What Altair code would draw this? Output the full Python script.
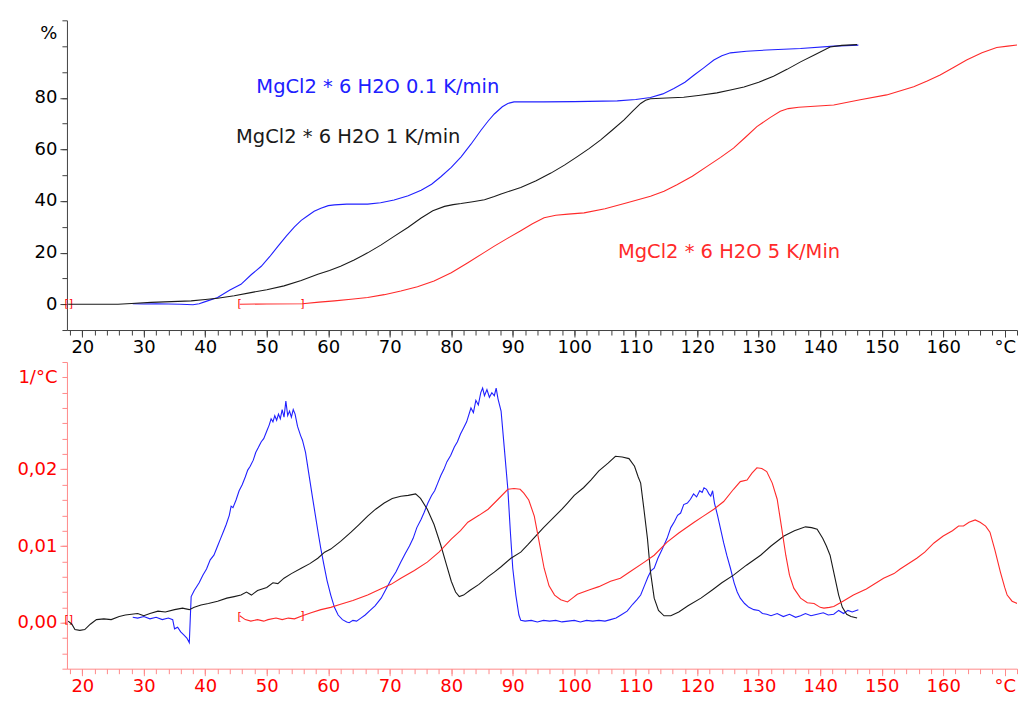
import altair as alt
import pandas as pd

# ---------------- data ----------------
series_names = ["MgCl2 * 6 H2O 0.1 K/min", "MgCl2 * 6 H2O 1 K/min", "MgCl2 * 6 H2O 5 K/Min"]
series_colors = ["#2020ff", "#1a1a1a", "#ff2a2a"]

# top panel: mass loss in %
blue_tg_x = [28.2, 30, 32, 34, 36, 38, 39, 40, 42, 44, 45.8, 47.5, 49.1, 50.5, 51.8, 53.2, 54.5, 55.6, 56.6, 57.7,
             58.8, 60, 61, 63, 66.4, 68.5, 70.7, 73, 75.1, 76.8, 78.3, 80, 81.6, 83.2, 84.8, 86, 87, 88.3, 89.2, 90.2,
             95, 100, 107, 110, 112.4, 114.4, 116.2, 118, 119.5, 121, 122.7, 124, 125.4, 128, 131.3, 136.8, 142.2, 146.2]
blue_tg_y = [0.2, 0.1, 0.2, 0.1, 0.0, -0.2, 0.2, 1.0, 2.6, 5.5, 7.7, 11.5, 14.7, 18.5, 22.4, 26.5, 30, 32.5, 34.2, 36,
             37.2, 38.2, 38.5, 38.8, 38.8, 39.3, 40.4, 42, 44.2, 46.5, 49.4, 53, 57.1, 62, 67.3, 71, 73.7, 76.5, 77.8, 78.4,
             78.4, 78.5, 78.8, 79.3, 80.1, 81.5, 83.6, 86, 88.8, 91.5, 94.6, 96.3, 97.4, 98, 98.5, 99.1, 100, 100.4]

black_tg_x = [17.7, 22, 25.8, 28, 31.2, 34.5, 37.7, 40, 42, 44.7, 47.4, 50, 52.8, 55.6, 58.3, 60.2, 62, 64.2, 66.4, 68.6,
              70.7, 73, 75.1, 77, 78.9, 80.3, 81.6, 83.5, 85.4, 87, 88.1, 89.7, 91.3, 93.8, 96.2, 98.4, 100.5, 102.4,
              104.3, 106.2, 108.1, 109.5, 110.8, 111.6, 112.4, 115, 117.8, 120.5, 123.2, 125.4, 127.6, 130, 132.4,
              134.6, 136.8, 139.2, 141.6, 143.5, 146]
black_tg_y = [0, 0, 0, 0.3, 0.7, 1.0, 1.3, 1.8, 2.3, 3.3, 4.5, 5.6, 7.1, 9.2, 11.6, 13.1, 14.7, 17.1, 19.9, 23.0,
              26.3, 29.8, 33.4, 36.2, 37.9, 38.6, 39.0, 39.7, 40.5, 41.7, 42.7, 44.0, 45.2, 47.8, 50.8, 53.9, 57.2, 60.3,
              63.7, 67.5, 71.4, 74.8, 77.8, 79.0, 79.6, 79.9, 80.2, 81.0, 81.9, 83.0, 84.2, 86.0, 88.3,
              91.0, 93.9, 96.8, 99.7, 100.3, 100.6]

red_tg_x = [45.6, 50, 55.8, 58.5, 61, 63.7, 66.4, 69.1, 71.8, 74.5, 77.2, 80, 82.7, 85, 87, 89.2, 91.3, 93.2, 95.1, 97,
            99, 101.6, 105, 108.6, 112.4, 114.6, 116.7, 119.2, 121.6, 123.8, 125.9, 127.8, 129.7, 131.9, 133.5, 134.8,
            136.5, 138.4, 142.2, 146.5, 150.8, 155.2, 157.4, 159.5, 161.6, 163.8, 166.3, 168.7, 170.5, 172.5]
red_tg_y = [0, 0.1, 0.2, 0.8, 1.3, 1.9, 2.6, 3.7, 5.1, 6.8, 9.0, 12.2, 16.1, 19.5, 22.5, 25.6, 28.5, 31.2, 33.5, 34.5,
            34.9, 35.4, 37.0, 39.3, 41.8, 43.8, 46.3, 49.6, 53.4, 56.9, 60.5, 64.6, 68.8, 72.4, 74.8, 75.8,
            76.3, 76.6, 77.2, 79.2, 81.1, 84.3, 86.5, 88.8, 91.6, 94.6, 97.4, 99.5, 100.0, 100.6]

# bottom panel: derivative in 1/°C
blue_dtg_x = [28.2, 29, 30, 31, 32, 33, 34, 34.7, 35.0, 35.5, 36.0, 36.5, 37.0, 37.4, 37.7, 38.2, 39.0, 39.6, 40.2,
              40.8, 41.4, 42.0, 42.5, 43.0, 43.4, 43.9, 44.2, 44.5, 45.0, 45.5, 46.0, 46.5, 46.9, 47.3, 47.8, 48.2,
              48.6, 49.1, 49.5, 50.0, 50.4, 50.7, 51.0, 51.3, 51.6, 51.9, 52.2, 52.5, 52.8, 53.1, 53.4, 53.7, 54.0,
              54.3, 54.6, 55.0, 55.5, 55.8, 56.3, 56.8, 57.4, 57.9, 58.4, 58.8, 59.3, 59.8, 60.4, 61.0, 61.6, 62.3,
              63.0, 63.4, 64.0, 64.6, 65.3, 66.0, 66.8, 67.6, 68.6, 69.4, 70.2, 71.0, 71.8, 72.5, 73.2, 73.8, 74.4,
              75.1, 75.6, 76.2, 76.8, 77.3, 77.8, 78.3, 78.8, 79.3, 79.9, 80.5, 81.0, 81.5, 82.0, 82.5, 83.2, 83.6,
              84.0, 84.4, 84.8, 85.1, 85.4, 85.8, 86.2, 86.6, 87.0, 87.3, 87.6, 88.1, 88.6, 89.2, 89.6, 90.0, 90.5,
              91.0, 91.3, 92, 93, 94, 95, 96, 97, 98, 99, 100, 101, 102, 103, 104, 105, 105.9, 106.8, 107.6, 108.6,
              109.5, 110.2, 110.8, 111.4, 112.0, 112.5, 113.0, 113.6, 114.2, 115.1, 115.7, 116.3, 116.8, 117.3,
              117.8, 118.4, 118.9, 119.4, 119.9, 120.4, 120.8, 121.1, 121.5, 121.9, 122.2, 122.5, 122.8, 123.3,
              123.8, 124.3, 124.8, 125.4, 126.0, 126.5, 127.0, 127.7, 128.4, 129.2, 130.0, 130.6, 131.3, 132, 133,
              134, 135, 136, 136.8, 137.6, 138.5, 139.5, 140.5, 141.3, 142.2, 143.0, 143.8, 144.5, 145.2, 146.2]
blue_dtg_y = [0.0007, 0.0006, 0.0008, 0.0005, 0.0007, 0.0004, 0.0006, 0.0004, -0.0008, -0.0006, -0.0012, -0.0016,
              -0.0020, -0.0026, 0.0034, 0.0042, 0.0052, 0.0062, 0.0070, 0.0082, 0.0088, 0.0100, 0.0110, 0.0120,
              0.0128, 0.0140, 0.0152, 0.0150, 0.0160, 0.0172, 0.0180, 0.0190, 0.0199, 0.0204, 0.0212, 0.0222,
              0.0228, 0.0236, 0.0240, 0.0250, 0.0258, 0.0266, 0.0262, 0.0270, 0.0264, 0.0272, 0.0266, 0.0278,
              0.0268, 0.0289, 0.0270, 0.0276, 0.0268, 0.0278, 0.0272, 0.0256, 0.0244, 0.0238, 0.0222, 0.0196,
              0.0165, 0.0140, 0.0115, 0.0096, 0.0075, 0.0055, 0.0036, 0.0020, 0.0010, 0.0004, 0.0001, 0.0000,
              0.0003, 0.0002, 0.0006, 0.0010, 0.0016, 0.0022, 0.0032, 0.0044, 0.0056, 0.0066, 0.0079, 0.0090,
              0.0100, 0.0110, 0.0124, 0.0135, 0.0144, 0.0156, 0.0166, 0.0172, 0.0182, 0.0192, 0.0200, 0.0210,
              0.0218, 0.0229, 0.0236, 0.0246, 0.0254, 0.0262, 0.0280, 0.0274, 0.0290, 0.0284, 0.0300, 0.0306,
              0.0296, 0.0304, 0.0294, 0.0300, 0.0296, 0.0306, 0.0292, 0.0276, 0.0230, 0.0174, 0.0120, 0.0071,
              0.0036, 0.0010, 0.0003, 0.0002, 0.0003, 0.0001, 0.0003, 0.0002, 0.0003, 0.0001, 0.0002, 0.0003,
              0.0001, 0.0003, 0.0002, 0.0003, 0.0002, 0.0004, 0.0006, 0.0010, 0.0015, 0.0024, 0.0030, 0.0036,
              0.0048, 0.0060, 0.0068, 0.0071, 0.0084, 0.0094, 0.0110, 0.0124, 0.0132, 0.0140, 0.0143, 0.0154,
              0.0156, 0.0161, 0.0168, 0.0164, 0.0172, 0.0170, 0.0176, 0.0174, 0.0168, 0.0165, 0.0172, 0.0156,
              0.0140, 0.0122, 0.0104, 0.0088, 0.0071, 0.0052, 0.0040, 0.0032, 0.0025, 0.0020, 0.0017, 0.0016,
              0.0012, 0.0011, 0.0009, 0.0012, 0.0008, 0.0011, 0.0007, 0.0009, 0.0012, 0.0009, 0.0011, 0.0013,
              0.0010, 0.0011, 0.0016, 0.0012, 0.0016, 0.0014, 0.0017]

black_dtg_x = [17.7, 18.3, 18.8, 19.6, 20.4, 21.3, 22.3, 23.5, 24.7, 26.0, 27.0, 28.0, 29.0, 30.0, 31.0, 32.3, 33.5,
               35.0, 36.3, 37.4, 38.2, 39.3, 40.5, 42.0, 43.5, 44.7, 45.8, 46.7, 47.5, 48.5, 50.0, 51.0, 51.8, 52.8,
               54.0, 55.6, 57.0, 58.3, 59.4, 60.4, 62.0, 63.7, 65.0, 66.4, 67.7, 69.1, 70.4, 71.8, 73.0, 74.2, 75.0,
               76.1, 77.2, 78.3, 79.2, 80.0, 80.7, 81.3, 82.0, 83.0, 84.5, 86.0, 87.0, 88.1, 89.7, 91.3, 92.5, 93.5,
               95.0, 96.5, 98.0, 98.9, 100.0, 101.5, 102.7, 104.0, 105.5, 106.7, 107.8, 108.9, 109.8, 110.4, 110.8,
               111.3, 111.9, 112.4, 113.0, 113.7, 114.6, 115.7, 117.0, 118.5, 120.6, 122.5, 124.0, 125.9, 128.0,
               130.3, 132.0, 134.1, 135.8, 137.6, 138.6, 139.5, 140.4, 141.0, 141.6, 142.3, 143.0, 143.6, 144.3,
               145.0, 146.0]
black_dtg_y = [0.0002, -0.0002, -0.0009, -0.0010, -0.0009, -0.0002, 0.0004, 0.0005, 0.0004, 0.0008, 0.0010, 0.0011,
               0.0012, 0.0009, 0.0012, 0.0015, 0.0014, 0.0017, 0.0019, 0.0017, 0.0020, 0.0023, 0.0025, 0.0028,
               0.0032, 0.0034, 0.0036, 0.0040, 0.0036, 0.0042, 0.0046, 0.0052, 0.0051, 0.0058, 0.0064, 0.0071,
               0.0077, 0.0084, 0.0092, 0.0096, 0.0106, 0.0118, 0.0128, 0.0139, 0.0148, 0.0156, 0.0162, 0.0165,
               0.0166, 0.0168, 0.0162, 0.0148, 0.0128, 0.0101, 0.0076, 0.0054, 0.0040, 0.0034, 0.0036, 0.0042,
               0.0050, 0.0060, 0.0066, 0.0073, 0.0084, 0.0092, 0.0102, 0.0111, 0.0124, 0.0136, 0.0148, 0.0156,
               0.0166, 0.0176, 0.0186, 0.0198, 0.0208, 0.0217, 0.0216, 0.0214, 0.0204, 0.0190, 0.0182, 0.0150,
               0.0110, 0.0066, 0.0032, 0.0016, 0.0009, 0.0009, 0.0014, 0.0022, 0.0032, 0.0043, 0.0052, 0.0062,
               0.0075, 0.0088, 0.0100, 0.0113, 0.0120, 0.0125, 0.0124, 0.0122, 0.0110, 0.0100, 0.0088, 0.0062,
               0.0036, 0.0020, 0.0011, 0.0008, 0.0006]

red_dtg_x = [45.6, 46.5, 47.4, 48.5, 49.5, 50.2, 51.5, 52.5, 53.5, 54.5, 55.8, 57.2, 58.8, 60.4, 62.0, 64.0, 66.4,
             68.5, 70.2, 71.8, 74.0, 76.1, 78.0, 80.0, 81.5, 82.7, 84.5, 86.0, 87.5, 89.2, 90.2, 91.2, 91.8, 92.6,
             93.5, 94.3, 95.1, 95.9, 96.8, 97.8, 98.9, 99.7, 100.5, 102.5, 104.0, 105.9, 107.5, 109.0, 111.4, 113.0,
             115.1, 117.0, 119.5, 121.0, 122.7, 124.3, 125.9, 127.0, 128.1, 128.9, 129.7, 130.5, 131.3, 132.2,
             133.0, 133.7, 134.4, 135.0, 135.7, 136.8, 137.9, 139.0, 140.0, 140.6, 141.5, 142.2, 143.7, 145.4,
             147.5, 150.3, 152.0, 153.0, 155.7, 157.0, 158.5, 160.0, 161.5, 162.5, 163.3, 164.2, 165.2, 166.0,
             166.9, 167.6, 168.4, 169.3, 170.0, 170.4, 171.2, 172.3]
red_dtg_y = [0.0009, 0.0004, 0.0002, 0.0004, 0.0002, 0.0004, 0.0006, 0.0004, 0.0006, 0.0005, 0.0009, 0.0013, 0.0017,
             0.0020, 0.0024, 0.0029, 0.0036, 0.0044, 0.0050, 0.0058, 0.0068, 0.0079, 0.0092, 0.0109, 0.0120,
             0.0131, 0.0140, 0.0148, 0.0160, 0.0174, 0.0175, 0.0174, 0.0169, 0.0160, 0.0139, 0.0105, 0.0071,
             0.0048, 0.0036, 0.0030, 0.0027, 0.0032, 0.0037, 0.0043, 0.0047, 0.0054, 0.0058, 0.0066, 0.0079,
             0.0088, 0.0105, 0.0117, 0.0131, 0.0139, 0.0148, 0.0158, 0.0174, 0.0184, 0.0186, 0.0195, 0.0202,
             0.0201, 0.0197, 0.0182, 0.0161, 0.0125, 0.0088, 0.0062, 0.0045, 0.0032, 0.0026, 0.0025, 0.0020,
             0.0019, 0.0020, 0.0021, 0.0028, 0.0036, 0.0044, 0.0058, 0.0064, 0.0070, 0.0084, 0.0092, 0.0104,
             0.0113, 0.0120, 0.0126, 0.0126, 0.0131, 0.0134, 0.0131, 0.0126, 0.0118, 0.0095, 0.0066, 0.0046,
             0.0036, 0.0028, 0.0024]

# curve annotations in the top panel
ann_text = series_names
ann_x = [48.3, 45.0, 107.1]
ann_y = [84.2, 64.9, 20.1]

# red evaluation-range brackets
br_text = ["[]", "[", "]"]
br_x = [17.8, 45.6, 55.8]
br_top_y = [0.0, 0.0, 0.0]
br_bot_y = [0.0003, 0.0007, 0.0009]

# axis ticks
x_major_values = list(range(20, 171, 10))
x_minor_values = list(range(18, 173, 2))
top_y_major_values = [0, 20, 40, 60, 80]
top_y_minor_values = list(range(-10, 111, 10))
bot_y_major_values = [0.0, 0.01, 0.02]
bot_y_minor_values = [round(-0.006 + 0.002 * i, 3) for i in range(21)]

# ---------------- build tables ----------------
def table(xs, ys, name):
    return pd.DataFrame({"T": xs, "v": ys, "series": name, "order": range(len(xs))})

tg = pd.concat([table(blue_tg_x, blue_tg_y, series_names[0]),
                table(black_tg_x, black_tg_y, series_names[1]),
                table(red_tg_x, red_tg_y, series_names[2])])
dtg = pd.concat([table(blue_dtg_x, blue_dtg_y, series_names[0]),
                 table(black_dtg_x, black_dtg_y, series_names[1]),
                 table(red_dtg_x, red_dtg_y, series_names[2])])
ann = pd.DataFrame({"T": ann_x, "v": ann_y, "text": ann_text, "series": series_names})
br_top = pd.DataFrame({"T": br_x, "v": br_top_y, "text": br_text})
br_bot = pd.DataFrame({"T": br_x, "v": br_bot_y, "text": br_text})

FONT = "DejaVu Sans"
RED = "#ff0000"
PINK = "#ff8a8a"
DARK = "#404040"
color_scale = alt.Scale(domain=series_names, range=series_colors)
x_scale = alt.Scale(domain=[17.5, 172.0], nice=False, zero=False)
top_y_scale = alt.Scale(domain=[-10, 110], nice=False, zero=False)
bot_y_scale = alt.Scale(domain=[-0.006, 0.034], nice=False, zero=False)


def x_major(label_color, line_color):
    return alt.Axis(values=x_major_values, labelExpr="datum.value === 170 ? '°C' : datum.label",
                    tickSize=7, orient="bottom", title=None, grid=False, labelColor=label_color,
                    domainColor=line_color, tickColor=line_color, labelFontSize=18, labelFont=FONT,
                    labelPadding=2, labelOverlap=False, labelFlush=False)


def x_minor(line_color):
    return alt.Axis(values=[v for v in x_minor_values if v <= 172.0], labels=False, domain=False,
                    tickSize=5, orient="bottom", title=None, grid=False, tickColor=line_color)


def y_minor(values, line_color):
    return alt.Axis(values=values, labels=False, domain=False, tickSize=5, orient="left",
                    title=None, grid=False, tickColor=line_color)


W = 951
H_TOP = 310
H_BOT = 307
# ---------------- top panel ----------------
top_y_major = alt.Axis(
    values=top_y_major_values, tickSize=7, orient="left", grid=False,
    title="%", titleAngle=0, titleAlign="right", titleBaseline="middle",
    titleX=-10, titleY=13, titleFontSize=18, titleFontWeight="normal", titleFont=FONT, titleColor="#000",
    labelColor="#000", domainColor=DARK, tickColor=DARK, labelFontSize=18, labelFont=FONT,
    labelPadding=3, labelOverlap=False)

top_lines = alt.Chart(tg).mark_line(strokeWidth=1.1, clip=True).encode(
    x=alt.X("T:Q", scale=x_scale, axis=x_major("#000", DARK)),
    y=alt.Y("v:Q", scale=top_y_scale, axis=top_y_major),
    color=alt.Color("series:N", scale=color_scale, legend=None),
    detail="series:N",
    order="order:Q",
)
top_br = alt.Chart(br_top).mark_text(align="center", baseline="middle", font=FONT, fontSize=11,
                                     color=RED).encode(
    x=alt.X("T:Q", scale=x_scale, axis=x_minor(DARK)),
    y=alt.Y("v:Q", scale=top_y_scale, axis=y_minor(top_y_minor_values, DARK)),
    text="text:N")
top_ann = alt.Chart(ann).mark_text(align="left", baseline="middle", font=FONT, fontSize=19.5).encode(
    x=alt.X("T:Q", scale=x_scale, axis=None),
    y=alt.Y("v:Q", scale=top_y_scale, axis=None),
    text="text:N", color=alt.Color("series:N", scale=color_scale, legend=None))
top = alt.layer(top_br, top_lines, top_ann).resolve_axis(x="independent", y="independent").properties(
    width=W, height=H_TOP)

# ---------------- bottom panel ----------------
bot_y_major = alt.Axis(
    values=bot_y_major_values, labelExpr="replace(format(datum.value, '.2f'), '.', ',')",
    tickSize=7, orient="left", grid=False,
    title="1/°C", titleAngle=0, titleAlign="right", titleBaseline="middle",
    titleX=-10, titleY=16, titleFontSize=18, titleFontWeight="normal", titleFont=FONT, titleColor=RED,
    labelColor=RED, domainColor=PINK, tickColor=PINK, labelFontSize=18, labelFont=FONT,
    labelPadding=3, labelOverlap=False)

bot_lines = alt.Chart(dtg).mark_line(strokeWidth=1.1, clip=True).encode(
    x=alt.X("T:Q", scale=x_scale, axis=x_major(RED, PINK)),
    y=alt.Y("v:Q", scale=bot_y_scale, axis=bot_y_major),
    color=alt.Color("series:N", scale=color_scale, legend=None),
    detail="series:N",
    order="order:Q",
)
bot_br = alt.Chart(br_bot).mark_text(align="center", baseline="middle", font=FONT, fontSize=11,
                                     color=RED).encode(
    x=alt.X("T:Q", scale=x_scale, axis=x_minor(PINK)),
    y=alt.Y("v:Q", scale=bot_y_scale, axis=y_minor(bot_y_minor_values, PINK)),
    text="text:N")
bottom = alt.layer(bot_br, bot_lines).resolve_axis(x="independent", y="independent").properties(
    width=W, height=H_BOT)

chart = alt.vconcat(top, bottom, spacing=32, bounds="flush").resolve_scale(
    x="shared", color="shared", y="independent"
).properties(
    padding={"left": 8, "top": 11, "right": 0, "bottom": 0}, background="white"
).configure_view(stroke=None)

chart.save("out.html", embed_options={"renderer": "svg", "actions": False})
